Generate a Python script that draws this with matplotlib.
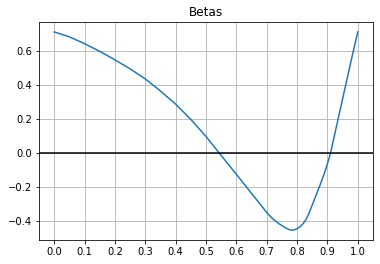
import matplotlib
matplotlib.use('Agg')
import matplotlib.pyplot as plt
import numpy as np

# values
x = [0.0, 0.05, 0.1, 0.15, 0.2, 0.25, 0.3, 0.35, 0.4, 0.45, 0.5, 0.55,
     0.6, 0.65, 0.68, 0.7, 0.72, 0.74, 0.76, 0.77, 0.78, 0.79, 0.8, 0.81,
     0.82, 0.83, 0.84, 0.85, 0.86, 0.87, 0.88, 0.89, 0.9, 0.91, 0.92, 0.93,
     0.94, 0.95, 0.96, 0.97, 0.98, 0.99, 1.0]
betas = [0.712, 0.683, 0.643, 0.598, 0.548, 0.495, 0.436, 0.365, 0.288, 0.198,
         0.098, -0.014, -0.124, -0.237, -0.303, -0.349, -0.386, -0.414, -0.437,
         -0.446, -0.452, -0.451, -0.444, -0.432, -0.414, -0.388, -0.350,
         -0.304, -0.259, -0.213, -0.166, -0.118, -0.062, 0.0, 0.080, 0.160,
         0.240, 0.320, 0.400, 0.480, 0.560, 0.636, 0.712]
xticks = [0.0, 0.1, 0.2, 0.3, 0.4, 0.5, 0.6, 0.7, 0.8, 0.9, 1.0]

fig = plt.figure(figsize=(380 / 72, 264 / 72), dpi=72)
ax = fig.add_axes([0.1026, 0.0909, 0.879, 0.8258])

ax.plot(x, betas, color='#1f77b4', lw=1.5)
ax.axhline(0, color='k', lw=1.5)
ax.set_xticks(xticks)
ax.grid(True)
ax.set_title('Betas')

fig.savefig('out.png', dpi=72)
